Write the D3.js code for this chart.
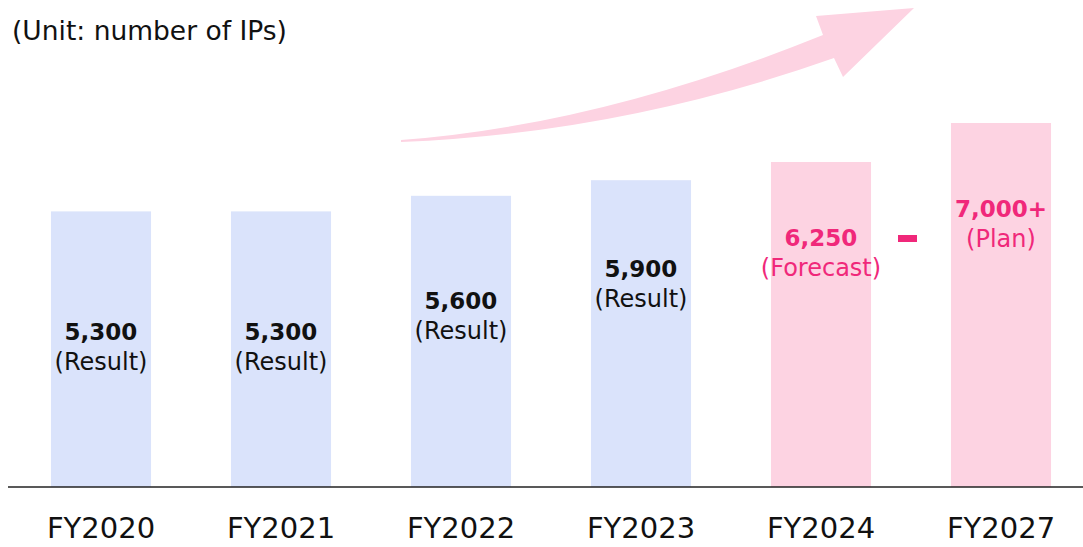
<!DOCTYPE html>
<html lang="en">
<head>
    <meta charset="UTF-8">
    <title>IPs</title>
    <script type="text/javascript" src="https://cdn.jsdelivr.net/npm/d3@7"></script>
    <style type="text/css">
        body { margin: 0; background: #fff; }
        text { font-family: "DejaVu Sans", Verdana, sans-serif; }
    </style>
</head>
<body>
    <script type="text/javascript">

        //Width and height
        var w = 1083;
        var h = 547;

        // data
        var years = ['FY2020', 'FY2021', 'FY2022', 'FY2023', 'FY2024', 'FY2027'];
        var values = [5300, 5300, 5600, 5900, 6250, 7000];
        var valueLabels = ['5,300', '5,300', '5,600', '5,900', '6,250', '7,000+'];
        var kinds = ['(Result)', '(Result)', '(Result)', '(Result)', '(Forecast)', '(Plan)'];
        var planned = [false, false, false, false, true, true];

        // how far below the bar top the label sits
        var labelOffset = [121, 121, 105, 89, 76, 86];

        var blue = '#dae3fb', pink = '#fdd3e2', pinkText = '#f0287a';
        var baseY = 487;

        var svg = d3.select("body")
            .append("svg")
            .attr("width", w)
            .attr("height", h);

        var x = d3.scaleBand()
            .domain(years)
            .range([11, 1091])
            .paddingInner(0.444)
            .paddingOuter(0.222);

        var y = d3.scaleLinear()
            .domain([0, 7000])
            .range([baseY, 123]);

        // unit label
        svg.append("text")
            .attr("x", 12)
            .attr("y", 30)
            .attr("dominant-baseline", "central")
            .attr("font-size", "26.5px")
            .attr("fill", "#111")
            .text("(Unit: number of IPs)");

        // growth arrow
        svg.append("path")
            .attr("d", "M401,140 Q600,125 823,35 L816,16 L914,8 L843,77 L834,58 Q622,133 401,142 Z")
            .attr("fill", pink);

        var data = years.map(function(d, i) {
            return {year: d, value: values[i], label: valueLabels[i], kind: kinds[i], plan: planned[i], off: labelOffset[i]};
        });

        svg.selectAll("rect.bar")
            .data(data)
            .enter()
            .append("rect")
            .attr("class", "bar")
            .attr("x", function(d) { return x(d.year); })
            .attr("y", function(d) { return y(d.value); })
            .attr("width", x.bandwidth())
            .attr("height", function(d) { return baseY - y(d.value); })
            .attr("fill", function(d) { return d.plan ? pink : blue; });

        svg.selectAll("text.val")
            .data(data)
            .enter()
            .append("text")
            .attr("class", "val")
            .attr("x", function(d) { return x(d.year) + x.bandwidth() / 2; })
            .attr("y", function(d) { return y(d.value) + d.off; })
            .attr("text-anchor", "middle")
            .attr("dominant-baseline", "central")
            .attr("font-size", "23px")
            .attr("font-weight", "bold")
            .attr("fill", function(d) { return d.plan ? pinkText : "#111"; })
            .text(function(d) { return d.label; });

        svg.selectAll("text.kind")
            .data(data)
            .enter()
            .append("text")
            .attr("class", "kind")
            .attr("x", function(d) { return x(d.year) + x.bandwidth() / 2; })
            .attr("y", function(d) { return y(d.value) + d.off + 30; })
            .attr("text-anchor", "middle")
            .attr("dominant-baseline", "central")
            .attr("font-size", "24px")
            .attr("fill", function(d) { return d.plan ? pinkText : "#111"; })
            .text(function(d) { return d.kind; });

        // dash between forecast and plan
        var midX = (x('FY2024') + x.bandwidth() + x('FY2027')) / 2;
        svg.append("rect")
            .attr("x", midX - 13)
            .attr("y", 235)
            .attr("width", 19)
            .attr("height", 7)
            .attr("fill", pinkText);

        // baseline axis
        var axis = svg.append("g")
            .attr("transform", "translate(0," + baseY + ")")
            .call(d3.axisBottom(x).tickSize(0).tickPadding(30));
        axis.select(".domain")
            .attr("d", "M8,0H1083")
            .attr("stroke", "#222")
            .attr("stroke-width", 1.5);
        axis.selectAll("text")
            .attr("font-size", "29px")
            .attr("font-family", "'DejaVu Sans', Verdana, sans-serif")
            .attr("fill", "#111");

    </script>
</body>
</html>
